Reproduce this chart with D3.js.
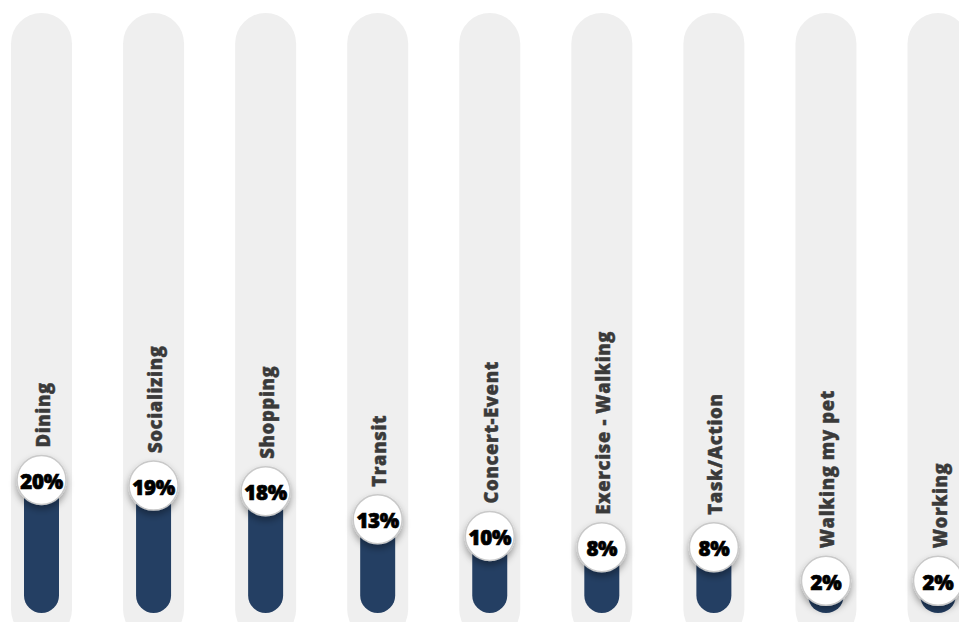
<!DOCTYPE html>
<html>
<head>
<meta charset="utf-8">
<script src="https://cdn.jsdelivr.net/npm/d3@7"></script>
<style>
  html, body { margin: 0; padding: 0; background: #ffffff; }
  svg { display: block; }
</style>
</head>
<body>
<div id="chart"></div>
<script>
const categories = ["Dining", "Socializing", "Shopping", "Transit", "Concert-Event", "Exercise - Walking", "Task/Action", "Walking my pet", "Working"];
const values = [20, 19, 18, 13, 10, 8, 8, 2, 2];
const valueLabels = ["20%", "19%", "18%", "13%", "10%", "8%", "8%", "2%", "2%"];

const W = 959, H = 622;
const svg = d3.select("#chart").append("svg").attr("width", W).attr("height", H);

const defs = svg.append("defs");
const f = defs.append("filter").attr("id", "shadow").attr("x", "-50%").attr("y", "-50%").attr("width", "200%").attr("height", "200%");
f.append("feDropShadow").attr("dx", 0).attr("dy", 4).attr("stdDeviation", 3.5).attr("flood-color", "#000").attr("flood-opacity", 0.35);

const x = d3.scalePoint().domain(categories).range([41.5, 938]);
const y = d3.scaleLinear().domain([0, 100]).range([592, 32]);

const trackW = 61, barW = 35, r = 24.5;
const trackTop = 13, trackBottom = 640, barBottom = 613;

const data = categories.map((c, i) => ({ c, v: values[i], label: valueLabels[i] }));

const g = svg.selectAll("g.item").data(data).enter().append("g").attr("class", "item");

g.append("rect")
  .attr("x", d => x(d.c) - trackW / 2)
  .attr("y", trackTop)
  .attr("width", trackW)
  .attr("height", trackBottom - trackTop)
  .attr("rx", trackW / 2)
  .attr("fill", "#efefef");

g.append("rect")
  .attr("x", d => x(d.c) - barW / 2)
  .attr("y", d => y(d.v))
  .attr("width", barW)
  .attr("height", d => barBottom - y(d.v))
  .attr("rx", barW / 2)
  .attr("fill", "#243f63");

g.append("text")
  .attr("transform", d => `translate(${x(d.c) + 1},${y(d.v) - r - 8}) rotate(-90)`)
  .attr("text-anchor", "start")
  .attr("dominant-baseline", "central")
  .attr("font-family", "'Open Sans', sans-serif")
  .attr("font-weight", 800)
  .attr("font-size", 18.5)
  .attr("letter-spacing", 0.6)
  .attr("fill", "#3a3a3a")
  .attr("stroke", "#3a3a3a")
  .attr("stroke-width", 0.4)
  .text(d => d.c);

g.append("circle")
  .attr("cx", d => x(d.c))
  .attr("cy", d => y(d.v))
  .attr("r", r)
  .attr("fill", "#ffffff")
  .attr("stroke", "#c9c9c9")
  .attr("stroke-width", 1.5)
  .attr("filter", "url(#shadow)");

g.append("text")
  .attr("x", d => x(d.c))
  .attr("y", d => y(d.v) + 1)
  .attr("text-anchor", "middle")
  .attr("dominant-baseline", "central")
  .attr("font-family", "'Open Sans', sans-serif")
  .attr("font-weight", 800)
  .attr("font-size", 20.5)
  .attr("letter-spacing", -0.3)
  .attr("fill", "#000")
  .attr("stroke", "#000")
  .attr("stroke-width", 0.7)
  .text(d => d.label);
</script>
</body>
</html>
